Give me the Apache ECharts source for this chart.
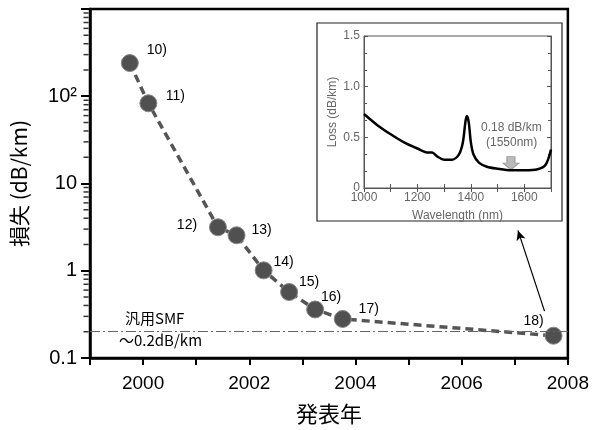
<!DOCTYPE html>
<html>
<head>
<meta charset="utf-8">
<script src="https://cdn.jsdelivr.net/npm/echarts@6/dist/echarts.min.js"></script>
<style>
  html, body { margin: 0; padding: 0; background: #fff; }
  #main { width: 592px; height: 430px; }
</style>
</head>
<body>
<div id="main"></div>
<script>
// 発表年と損失 (主グラフ)
var years = [1999.75, 2000.10, 2001.41, 2001.76, 2002.27, 2002.75, 2003.24, 2003.76, 2007.73];
var loss = [240, 83, 3.15, 2.55, 1.01, 0.57, 0.36, 0.28, 0.18];
var refs = ['10)', '11)', '12)', '13)', '14)', '15)', '16)', '17)', '18)'];
var labelOffsets = [[27, -13], [27, -7], [-31, -2], [25, -5], [20, -8], [20, -10], [16, -12], [26, -10], [-20, -15]];
var smfLoss = 0.2;
var yMinorTicks = [0.2, 0.3, 0.4, 0.5, 0.6, 0.7, 0.8, 0.9, 2, 3, 4, 5, 6, 7, 8, 9,
  20, 30, 40, 50, 60, 70, 80, 90, 200, 300, 400, 500, 600, 700, 800, 900];

// 挿入図: 損失スペクトル
var wavelength = [1000, 1050, 1100, 1150, 1200, 1240, 1255, 1275, 1300, 1330, 1355, 1370, 1380, 1385, 1392, 1400, 1410, 1430, 1460, 1500, 1550, 1600, 1650, 1680, 1700];
var spectrum = [0.73, 0.62, 0.53, 0.45, 0.39, 0.35, 0.35, 0.31, 0.28, 0.28, 0.33, 0.45, 0.66, 0.71, 0.65, 0.45, 0.33, 0.25, 0.21, 0.19, 0.175, 0.175, 0.185, 0.23, 0.38];

var font = 'Liberation Sans, Noto Sans CJK JP, sans-serif';
var jp = 'Noto Sans CJK JP, sans-serif';

var myChart = echarts.init(document.getElementById('main'), null, { renderer: 'canvas' });

var mainData = years.map(function (y, i) {
  return {
    value: [y, loss[i]],
    label: { show: true, formatter: refs[i], position: 'inside', offset: labelOffsets[i] }
  };
});

var thin = { show: true, lineStyle: { color: '#555', width: 1 } };

var option = {
  animation: false,
  backgroundColor: '#fff',
  grid: [
    { left: 90, right: 20, top: 9, bottom: 71, show: true, borderColor: '#000', borderWidth: 2.5 },
    { left: 364, top: 36, width: 187, height: 152, show: true, borderColor: '#555', borderWidth: 1 }
  ],
  xAxis: [
    {
      gridIndex: 0, type: 'value', min: 1999, max: 2008, interval: 1,
      axisLine: { lineStyle: { color: '#000', width: 2.5 } },
      axisTick: { inside: false, length: 7, lineStyle: { color: '#000', width: 2 } },
      axisLabel: {
        color: '#000', fontSize: 19, fontFamily: font, margin: 16,
        formatter: function (v) { return v % 2 === 0 ? String(v) : ''; }
      },
      splitLine: { show: false },
      name: '発表年', nameLocation: 'middle', nameGap: 45,
      nameTextStyle: { color: '#000', fontSize: 22, fontFamily: jp }
    },
    {
      gridIndex: 1, type: 'value', min: 1000, max: 1700, interval: 100,
      axisLine: thin,
      axisTick: { inside: true, length: 4, lineStyle: { color: '#555' } },
      axisLabel: {
        color: '#666', fontSize: 12, fontFamily: font, margin: 4,
        formatter: function (v) { return (v % 200 === 0 && v < 1700) ? String(v) : ''; }
      },
      splitLine: { show: false },
      name: 'Wavelength (nm)', nameLocation: 'middle', nameGap: 22,
      nameTextStyle: { color: '#666', fontSize: 12, fontFamily: font }
    },
    {
      gridIndex: 1, type: 'value', position: 'top', min: 1000, max: 1700, interval: 100,
      axisLine: thin,
      axisTick: { inside: true, length: 4, lineStyle: { color: '#555' } },
      axisLabel: { show: false }, splitLine: { show: false }
    }
  ],
  yAxis: [
    {
      gridIndex: 0, type: 'log', logBase: 10, min: 0.1, max: 1000,
      axisLine: { show: true, lineStyle: { color: '#000', width: 2.5 } },
      axisTick: { inside: false, length: 9, lineStyle: { color: '#000', width: 2 } },
      axisLabel: {
        color: '#000', fontSize: 20, fontFamily: font, margin: 13,
        formatter: function (v) {
          if (v > 500) return '';
          if (v > 50) return '10²';
          if (v > 5) return '10';
          if (v > 0.5) return '1';
          return '0.1';
        }
      },
      splitLine: { show: false },
      name: '損失 (dB/km)', nameLocation: 'middle', nameRotate: 90, nameGap: 60,
      nameTextStyle: { color: '#000', fontSize: 21, fontFamily: jp }
    },
    {
      gridIndex: 1, type: 'value', min: 0, max: 1.5, interval: 0.5,
      axisLine: thin,
      axisTick: { inside: true, length: 4, lineStyle: { color: '#555' } },
      minorTick: { show: true, splitNumber: 3, length: 3, lineStyle: { color: '#555' } },
      axisLabel: {
        color: '#666', fontSize: 12, fontFamily: font, margin: 4,
        formatter: function (v) { return v === 0 ? '0' : v.toFixed(1); }
      },
      splitLine: { show: false },
      name: 'Loss (dB/km)', nameLocation: 'middle', nameRotate: 90, nameGap: 25,
      nameTextStyle: { color: '#666', fontSize: 12, fontFamily: font }
    },
    {
      gridIndex: 1, type: 'value', position: 'right', min: 0, max: 1.5, interval: 0.5,
      axisLine: thin,
      axisTick: { inside: true, length: 4, lineStyle: { color: '#555' } },
      minorTick: { show: true, splitNumber: 3, length: 3, lineStyle: { color: '#555' } },
      axisLabel: { show: false }, splitLine: { show: false }
    }
  ],
  graphic: [
    {
      type: 'rect', z: -1, silent: true,
      shape: { x: 317, y: 23, width: 245, height: 198 },
      style: { fill: '#fff', stroke: '#222', lineWidth: 1.2 }
    },
    {
      type: 'text', left: 125, top: 311, silent: true,
      style: { text: '汎用SMF', fill: '#000', fontSize: 15, fontFamily: jp }
    },
    {
      type: 'text', left: 119, top: 333, silent: true,
      style: { text: '～0.2dB/km', fill: '#000', fontSize: 15, fontFamily: jp }
    },
    {
      type: 'text', left: 481, top: 122, silent: true,
      style: { text: '0.18 dB/km', fill: '#666', fontSize: 12, fontFamily: font }
    },
    {
      type: 'text', left: 486, top: 137, silent: true,
      style: { text: '(1550nm)', fill: '#666', fontSize: 12, fontFamily: font }
    }
  ],
  series: [
    {
      // 縦軸の補助目盛
      type: 'scatter', xAxisIndex: 0, yAxisIndex: 0, silent: true, clip: false,
      symbol: 'rect', symbolSize: [5, 1.5], symbolOffset: [-4, 0],
      itemStyle: { color: '#000' },
      data: yMinorTicks.map(function (v) { return [1999, v]; }),
      z: 1
    },
    {
      type: 'line', xAxisIndex: 0, yAxisIndex: 0, data: [], silent: true,
      markLine: {
        silent: true, symbol: 'none', label: { show: false },
        lineStyle: { color: '#666', width: 1.2, type: [10, 3, 2, 3] },
        data: [{ yAxis: smfLoss }]
      }
    },
    {
      type: 'line', xAxisIndex: 0, yAxisIndex: 0, data: [], silent: true,
      markLine: {
        silent: true, symbol: ['none', 'arrow'], symbolSize: [7, 10], label: { show: false },
        lineStyle: { color: '#000', width: 1.2, type: 'solid' },
        data: [[{ coord: [2007.56, 0.344] }, { coord: [2007.06, 2.9] }]]
      }
    },
    {
      name: '損失', type: 'line', xAxisIndex: 0, yAxisIndex: 0,
      data: mainData,
      symbol: 'circle', symbolSize: 17,
      itemStyle: { color: '#505050', borderColor: '#888', borderWidth: 1 },
      lineStyle: { color: '#555', width: 3.5, type: [8, 5] },
      label: { color: '#000', fontSize: 14, fontFamily: font },
      z: 3
    },
    {
      name: 'Loss', type: 'line', xAxisIndex: 1, yAxisIndex: 1,
      data: wavelength.map(function (w, i) { return [w, spectrum[i]]; }),
      symbol: 'none', smooth: 0.3,
      lineStyle: { color: '#000', width: 2.5 },
      markPoint: {
        silent: true,
        symbol: 'path://M3,0 L9,0 L9,6 L12,6 L6,12 L0,6 L3,6 Z',
        symbolSize: [16, 13],
        itemStyle: { color: '#bbb', borderColor: '#999', borderWidth: 1 },
        label: { show: false },
        data: [{ coord: [1550, 0.245] }]
      },
      z: 5
    }
  ]
};

myChart.setOption(option);
</script>
</body>
</html>
